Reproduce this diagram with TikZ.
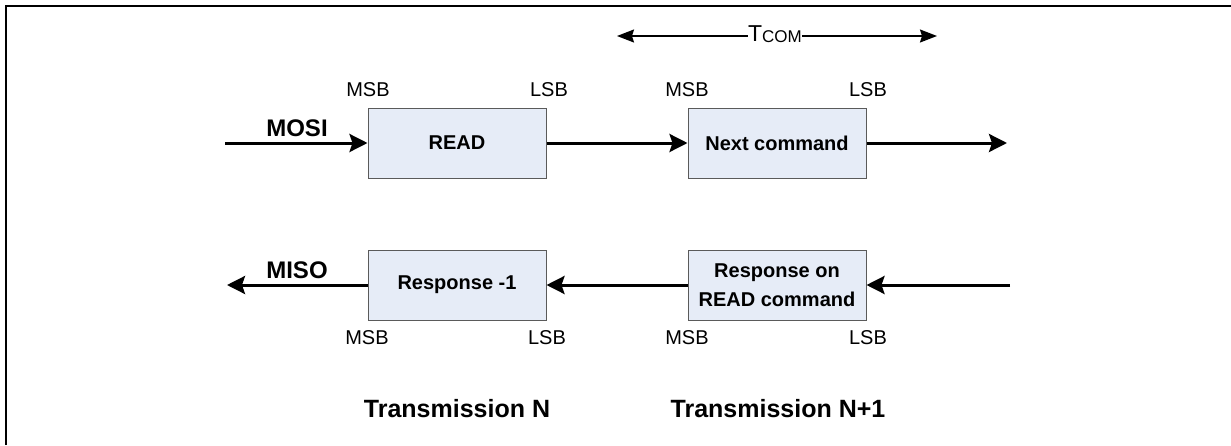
\documentclass[tikz,border=0pt]{standalone}
\usepackage{fontspec}
\setmainfont{Liberation Sans}
\usetikzlibrary{arrows.meta}
\definecolor{boxfill}{RGB}{230,236,247}
\definecolor{boxline}{RGB}{90,90,90}
\begin{document}
\begin{tikzpicture}[x=0.5pt,y=-0.5pt,
    sig/.style={line width=1.5pt,-{Stealth[length=9pt,width=9pt,inset=1.5pt]}},
    tarrow/.style={line width=0.75pt,-{Stealth[length=8.5pt,width=6.5pt,inset=1pt]}}]

        \useasboundingbox (0,0) rectangle (1231,445);
        \draw[line width=1pt] (6,445) -- (6,6) -- (1231,6);

        \begin{scope}[every node/.style={draw=boxline,fill=boxfill,line width=0.5pt,
            minimum width=89pt,minimum height=35pt,inner sep=0pt,align=center,
            font=\fontsize{10}{14.5}\selectfont\bfseries}]
          \node (read)     at (457,143) {READ};
          \node (next)     at (777,143) {Next command};
          \node (resp)     at (457,285) {Response -1};
          \node (respread) at (777,285) {Response on\\READ command};
        \end{scope}

        \begin{scope}[every node/.style={inner sep=0pt,font=\fontsize{10}{12}\selectfont}]
          \node (readmsb) at (368,90)  {MSB};
          \node (readlsb) at (549,90)  {LSB};
          \node (nextmsb) at (687,90)  {MSB};
          \node (nextlsb) at (868,90)  {LSB};
          \node (respmsb) at (367,338) {MSB};
          \node (resplsb) at (547,338) {LSB};
          \node (rrmsb)   at (687,338) {MSB};
          \node (rrlsb)   at (868,338) {LSB};
        \end{scope}

        \begin{scope}[every node/.style={inner sep=0pt,font=\fontsize{12}{14}\selectfont\bfseries}]
          \node (mosi) at (297,128) {MOSI};
          \node (miso) at (297,270) {MISO};
          \node[font=\fontsize{12.5}{14}\selectfont\bfseries] (txn)  at (457,409) {Transmission N};
          \node[font=\fontsize{12.5}{14}\selectfont\bfseries] (txn1) at (778,409) {Transmission N+1};
        \end{scope}

        \coordinate (mosiin)  at (225,143);
        \coordinate (mosiend) at (1007,143);
        \coordinate (misoend) at (227,285);
        \coordinate (misoin)  at (1010,285);

        \path[sig] (mosiin)    edge (read.west)
                   (read.east) edge (next.west)
                   (next.east) edge (mosiend);
        \path[sig] (resp.west)     edge (misoend)
                   (respread.west) edge (resp.east)
                   (misoin)        edge (respread.east);

        % T_COM span
        \node[inner sep=0pt,anchor=base,font=\fontsize{11.5}{13}\selectfont] (tcom) at (775,41)
          {T\raisebox{-0.5pt}{\fontsize{8.5}{10}\selectfont COM}};
        \coordinate (tleft)  at (617,36);
        \coordinate (tright) at (937,36);
        \draw[tarrow] (tcom.west |- tleft)  -- (tleft);
        \draw[tarrow] (tcom.east |- tright) -- (tright);

      \end{tikzpicture}
\end{document}
